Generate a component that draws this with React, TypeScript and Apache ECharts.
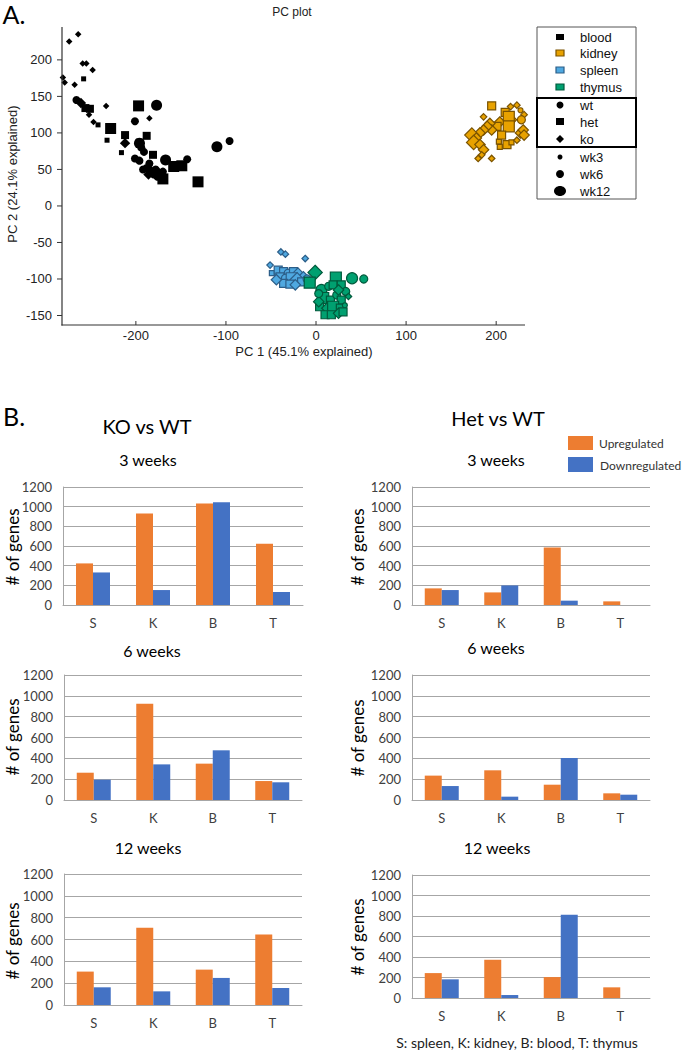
import React, { useEffect, useRef } from "react";
import * as echarts from "echarts";

// ---------- PC plot data: [PC1, PC2, genotype, week] ----------
const bloodPts: any[] = [
  [-264, 235, "ko", 3], [-274, 225, "ko", 3], [-259, 195, "ko", 3], [-255, 195, "ko", 3],
  [-248, 186, "ko", 3], [-281, 176, "ko", 3], [-279, 169, "ko", 3], [-268, 166, "ko", 3],
  [-258, 174, "het", 3], [-266, 145, "wt", 6], [-261, 141, "ko", 6], [-256, 134, "het", 6],
  [-251, 133, "het", 6], [-252, 125, "ko", 3], [-247, 115, "ko", 3], [-242, 111, "het", 3],
  [-233, 137, "ko", 3], [-197, 137, "het", 12], [-177, 138, "wt", 12], [-185, 120, "ko", 3],
  [-201, 116, "wt", 6], [-228, 106, "het", 12], [-212, 97, "het", 6], [-188, 96, "het", 6],
  [-232, 90, "het", 3], [-212, 86, "ko", 6], [-196, 86, "wt", 12], [-216, 73, "het", 3],
  [-191, 74, "wt", 6], [-181, 70, "het", 6], [-201, 65, "wt", 6], [-196, 62, "wt", 6],
  [-167, 63, "wt", 12], [-158, 54, "het", 12], [-149, 55, "het", 12], [-143, 64, "wt", 6],
  [-170, 37, "het", 12], [-131, 33, "het", 12], [-110, 81, "wt", 12], [-96, 89, "wt", 6],
  [-188, 52, "wt", 6], [-183, 48, "ko", 6], [-178, 50, "wt", 6], [-180, 43, "wt", 6],
  [-174, 45, "ko", 6], [-186, 43, "ko", 6], [-176, 40, "wt", 6], [-192, 50, "wt", 6],
  [-170, 47, "wt", 6], [-194, 80, "wt", 6], [-185, 58, "wt", 6],
];
const kidneyPts: any[] = [
  [195, 137, "het", 6], [210, 128, "het", 6], [216, 136, "ko", 3], [223, 138, "ko", 3],
  [227, 131, "wt", 3], [231, 125, "ko", 3], [228, 118, "wt", 6], [217, 118, "ko", 6],
  [214, 122, "het", 12], [204, 115, "ko", 6], [214, 109, "het", 12], [201, 109, "het", 6],
  [193, 113, "ko", 6], [195, 104, "ko", 6], [186, 122, "ko", 3], [190, 109, "ko", 6],
  [186, 104, "ko", 6], [182, 100, "ko", 6], [173, 97, "ko", 12], [178, 93, "ko", 6],
  [175, 87, "ko", 12], [182, 84, "ko", 6], [186, 77, "ko", 6], [180, 65, "ko", 3],
  [195, 65, "ko", 3], [184, 70, "ko", 3], [203, 88, "het", 3], [204, 81, "het", 3],
  [212, 84, "het", 6], [217, 87, "het", 3], [223, 90, "ko", 3], [227, 100, "ko", 6],
  [230, 104, "ko", 6], [231, 97, "ko", 6], [206, 97, "het", 6],
];
const spleenPts: any[] = [
  [-39, -63, "ko", 3], [-34, -66, "ko", 3], [-12, -72, "ko", 3], [-51, -81, "ko", 3],
  [-49, -92, "het", 3], [-42, -88, "het", 6], [-36, -90, "het", 6], [-31, -92, "wt", 6],
  [-25, -90, "het", 6], [-20, -92, "ko", 6], [-14, -97, "ko", 6], [-40, -97, "het", 6],
  [-34, -99, "wt", 6], [-27, -99, "het", 12], [-21, -101, "ko", 12], [-16, -104, "het", 6],
  [-36, -106, "het", 6], [-29, -107, "het", 6], [-10, -100, "wt", 6], [-44, -101, "ko", 6],
  [-23, -108, "ko", 6],
];
const thymusPts: any[] = [
  [-1, -91, "ko", 12], [-7, -105, "het", 12], [22, -98, "het", 12], [40, -99, "wt", 12],
  [53, -100, "wt", 6], [6, -115, "wt", 12], [14, -110, "wt", 6], [19, -108, "het", 6],
  [28, -108, "het", 6], [33, -117, "wt", 6], [36, -124, "ko", 3], [8, -126, "het", 12],
  [16, -129, "het", 6], [23, -122, "wt", 6], [28, -129, "het", 6], [4, -138, "het", 6],
  [12, -140, "ko", 6], [19, -138, "het", 12], [27, -140, "het", 6], [10, -149, "het", 6],
  [17, -149, "het", 6], [25, -147, "ko", 6], [3, -131, "ko", 6], [32, -136, "wt", 3],
  [30, -145, "het", 6], [3, -120, "wt", 6], [25, -115, "ko", 6],
];
const pcXTicks = [-200, -100, 0, 100, 200];
const pcYTicks = [-150, -100, -50, 0, 50, 100, 150, 200];
const pcXRange = [-282, 232];
const pcYRange = [-163, 245];

// ---------- Bar chart data ----------
const organs = ["S", "K", "B", "T"];
const koUp3 = [423, 930, 1031, 622];
const koDown3 = [331, 152, 1045, 132];
const koUp6 = [262, 925, 349, 182];
const koDown6 = [195, 342, 477, 170];
const koUp12 = [306, 707, 324, 646];
const koDown12 = [162, 125, 248, 156];
const hetUp3 = [169, 128, 585, 37];
const hetDown3 = [152, 199, 44, 0];
const hetUp6 = [234, 285, 147, 64];
const hetDown6 = [134, 32, 403, 51];
const hetUp12 = [243, 373, 204, 104];
const hetDown12 = [182, 29, 811, 0];

const ORANGE = "#ED7D31";
const BLUE = "#4472C4";
const GRIDC = "#A6A6A6";
const LBL = "#404040";
const FB = "Lato, 'Open Sans', sans-serif";
const FA = "'Liberation Sans', Arial, sans-serif";
const AXC = "#333333";

const PCG = { left: 62, top: 27, width: 463, height: 298 };

const panels = [
  { left: 63, top: 487, width: 240, height: 118, up: koUp3, down: koDown3 },
  { left: 64, top: 675, width: 238, height: 125, up: koUp6, down: koDown6 },
  { left: 64, top: 874, width: 238, height: 131, up: koUp12, down: koDown12 },
  { left: 412, top: 487, width: 238, height: 118, up: hetUp3, down: hetDown3 },
  { left: 412, top: 675, width: 238, height: 125, up: hetUp6, down: hetDown6 },
  { left: 412, top: 875, width: 238, height: 123, up: hetUp12, down: hetDown12 },
];

const SHAPE: Record<string, string> = { wt: "circle", het: "rect", ko: "diamond" };
const SIZE: Record<number, number> = { 3: 5, 6: 8, 12: 11 };

function txt(text: string, x: number, y: number, font: string, opts: any = {}) {
  return {
    type: "text",
    x,
    y,
    rotation: opts.rotation || 0,
    silent: true,
    style: {
      text,
      x: 0,
      y: 0,
      font,
      fill: opts.fill || "#000",
      align: opts.align || "center",
      textAlign: opts.align || "center",
      verticalAlign: "middle",
      textVerticalAlign: "middle",
    },
  };
}

export default function App() {
  const ref = useRef<HTMLDivElement>(null);
  useEffect(() => {
    if (!ref.current) return;
    const chart = echarts.init(ref.current, undefined, { renderer: "svg" });

    const grids: any[] = [{ ...PCG }];
    const xAxes: any[] = [
      {
        type: "value",
        min: pcXRange[0],
        max: pcXRange[1],
        axisLine: { show: false, onZero: false },
        axisTick: { show: false },
        axisLabel: { customValues: pcXTicks, color: "#222", fontSize: 13, fontFamily: FA, margin: 4 },
        splitLine: { show: false },
      },
    ];
    const yAxes: any[] = [
      {
        type: "value",
        min: pcYRange[0],
        max: pcYRange[1],
        axisLine: { show: false, onZero: false },
        axisTick: { show: false },
        axisLabel: { customValues: pcYTicks, color: "#222", fontSize: 13, fontFamily: FA, margin: 10 },
        splitLine: { show: false },
      },
    ];
    const series: any[] = [];
    const symbol = (v: any) => SHAPE[v[2]];
    const symbolSize = (v: any) => SIZE[v[3]] * (v[2] === "ko" ? 1.3 : 1);
    const tissues = [
      { data: bloodPts, color: "#000", border: "#000", bw: 0 },
      { data: spleenPts, color: "#4FA8E0", border: "#2C5E88", bw: 1.2 },
      { data: thymusPts, color: "#00A070", border: "#005A3C", bw: 1.2 },
      { data: kidneyPts, color: "#E8A200", border: "#7A5300", bw: 1.2 },
    ];
    tissues.forEach((t) =>
      series.push({
        type: "scatter",
        xAxisIndex: 0,
        yAxisIndex: 0,
        data: t.data,
        symbol,
        symbolSize,
        itemStyle: { color: t.color, borderColor: t.border, borderWidth: t.bw, opacity: 1 },
        emphasis: { disabled: true },
      })
    );

    panels.forEach((p, i) => {
      const gi = i + 1;
      grids.push({ left: p.left, top: p.top, width: p.width, height: p.height });
      xAxes.push({
        type: "category",
        gridIndex: gi,
        data: organs,
        axisLine: { show: true, lineStyle: { color: GRIDC, width: 1 } },
        axisTick: { show: false },
        axisLabel: { color: LBL, fontSize: 13, fontFamily: FB, margin: 11 },
      });
      yAxes.push({
        type: "value",
        gridIndex: gi,
        min: 0,
        max: 1200,
        interval: 200,
        axisLine: { show: true, lineStyle: { color: GRIDC, width: 1 } },
        axisTick: { show: false },
        axisLabel: { color: LBL, fontSize: 13, fontFamily: FB, margin: 11, formatter: (v: number) => String(v) },
        splitLine: { show: true, lineStyle: { color: GRIDC, width: 1 } },
      });
      series.push({
        type: "bar",
        name: "Upregulated",
        xAxisIndex: gi,
        yAxisIndex: gi,
        data: p.up,
        barWidth: 17,
        barGap: "0%",
        itemStyle: { color: ORANGE },
      });
      series.push({
        type: "bar",
        name: "Downregulated",
        xAxisIndex: gi,
        yAxisIndex: gi,
        data: p.down,
        barWidth: 17,
        barGap: "0%",
        itemStyle: { color: BLUE },
      });
    });

    // PC plot axis lines and ticks as thin rects along the grid edges
    const gx0 = PCG.left;
    const gy1 = PCG.top + PCG.height;
    const xPix = (v: number) => gx0 + ((v - pcXRange[0]) / (pcXRange[1] - pcXRange[0])) * PCG.width;
    const yPix = (v: number) => gy1 - ((v - pcYRange[0]) / (pcYRange[1] - pcYRange[0])) * PCG.height;
    const axisEls: any[] = [
      { type: "rect", shape: { x: gx0 - 0.6, y: PCG.top, width: 1.2, height: PCG.height + 0.6 }, style: { fill: AXC }, z: 20 },
      { type: "rect", shape: { x: gx0 - 0.6, y: gy1 - 0.6, width: PCG.width + 0.6, height: 1.2 }, style: { fill: AXC }, z: 20 },
      ...pcXTicks.map((v) => ({
        type: "rect",
        shape: { x: xPix(v) - 0.5, y: gy1 - 4, width: 1, height: 4 },
        style: { fill: AXC },
        z: 20,
      })),
      ...pcYTicks.map((v) => ({
        type: "rect",
        shape: { x: gx0 - 5, y: yPix(v) - 0.5, width: 5, height: 1 },
        style: { fill: AXC },
        z: 20,
      })),
    ];

    const graphic: any[] = [
      ...axisEls,
      txt("A.", 14, 14, "25px " + FB),
      txt("B.", 14, 416, "25px " + FB),
      txt("PC plot", 292, 12, "12px " + FA, { fill: "#222" }),
      txt("PC 1 (45.1% explained)", 304, 351, "13px " + FA, { fill: "#222" }),
      txt("PC 2 (24.1% explained)", 12, 174, "13px " + FA, { fill: "#222", rotation: Math.PI / 2 }),
      // scatter legend
      {
        type: "rect",
        shape: { x: 537, y: 27, width: 99, height: 172 },
        style: { fill: "#fff", stroke: "#555", lineWidth: 1 },
        z: 10,
      },
      {
        type: "rect",
        shape: { x: 537, y: 98, width: 99, height: 49 },
        style: { fill: "none", stroke: "#000", lineWidth: 2 },
        z: 11,
      },
      { type: "rect", shape: { x: 556, y: 34, width: 8, height: 6 }, style: { fill: "#000" }, z: 12 },
      { type: "rect", shape: { x: 556, y: 50, width: 8, height: 6 }, style: { fill: "#E8A200", stroke: "#7A5300", lineWidth: 1.2 }, z: 12 },
      { type: "rect", shape: { x: 556, y: 67, width: 8, height: 6 }, style: { fill: "#4FA8E0", stroke: "#2C5E88", lineWidth: 1.2 }, z: 12 },
      { type: "rect", shape: { x: 556, y: 84, width: 8, height: 6 }, style: { fill: "#00A070", stroke: "#005A3C", lineWidth: 1.2 }, z: 12 },
      { type: "circle", shape: { cx: 560, cy: 105, r: 3.5 }, style: { fill: "#000" }, z: 12 },
      { type: "rect", shape: { x: 556, y: 118, width: 8, height: 7 }, style: { fill: "#000" }, z: 12 },
      { type: "polygon", shape: { points: [[560, 135], [564, 139], [560, 143], [556, 139]] }, style: { fill: "#000" }, z: 12 },
      { type: "circle", shape: { cx: 560, cy: 157, r: 2.5 }, style: { fill: "#000" }, z: 12 },
      { type: "circle", shape: { cx: 560, cy: 174, r: 4 }, style: { fill: "#000" }, z: 12 },
      { type: "ellipse", shape: { cx: 560, cy: 191, rx: 6, ry: 5 }, style: { fill: "#000" }, z: 12 },
      ...[
        ["blood", 37], ["kidney", 53], ["spleen", 70], ["thymus", 87], ["wt", 105],
        ["het", 122], ["ko", 139], ["wk3", 157], ["wk6", 174], ["wk12", 191],
      ].map(([t, y]: any) => ({ ...txt(t, 580, y, "13px " + FA, { align: "left", fill: "#111" }), z: 12 })),
      // section B texts
      txt("KO vs WT", 147, 426, "20px " + FB),
      txt("Het vs WT", 498, 418, "20px " + FB),
      txt("3 weeks", 148, 459, "16px " + FB),
      txt("3 weeks", 496, 459, "16px " + FB),
      txt("6 weeks", 152, 650, "16px " + FB),
      txt("6 weeks", 496, 647, "16px " + FB),
      txt("12 weeks", 148, 847, "16px " + FB),
      txt("12 weeks", 497, 847, "16px " + FB),
      txt("# of genes", 12, 547, "17px " + FB, { rotation: Math.PI / 2 }),
      txt("# of genes", 357, 547, "17px " + FB, { rotation: Math.PI / 2 }),
      txt("# of genes", 12, 737, "17px " + FB, { rotation: Math.PI / 2 }),
      txt("# of genes", 357, 738, "17px " + FB, { rotation: Math.PI / 2 }),
      txt("# of genes", 12, 941, "17px " + FB, { rotation: Math.PI / 2 }),
      txt("# of genes", 357, 937, "17px " + FB, { rotation: Math.PI / 2 }),
      // bar legend
      { type: "rect", shape: { x: 568, y: 436, width: 25, height: 14 }, style: { fill: ORANGE } },
      { type: "rect", shape: { x: 568, y: 457, width: 25, height: 15 }, style: { fill: BLUE } },
      txt("Upregulated", 599, 443, "12px " + FB, { align: "left", fill: "#333" }),
      txt("Downregulated", 600, 465, "12px " + FB, { align: "left", fill: "#333" }),
      txt("S: spleen, K: kidney, B: blood, T: thymus", 517, 1042, "14px " + FB, { fill: "#222" }),
    ];

    chart.setOption({
      animation: false,
      grid: grids,
      xAxis: xAxes,
      yAxis: yAxes,
      series,
      graphic,
    });
    return () => chart.dispose();
  }, []);
  return (
    <div
      ref={ref}
      style={{ position: "absolute", left: 0, top: 0, width: 686, height: 1050, background: "#fff" }}
    />
  );
}
